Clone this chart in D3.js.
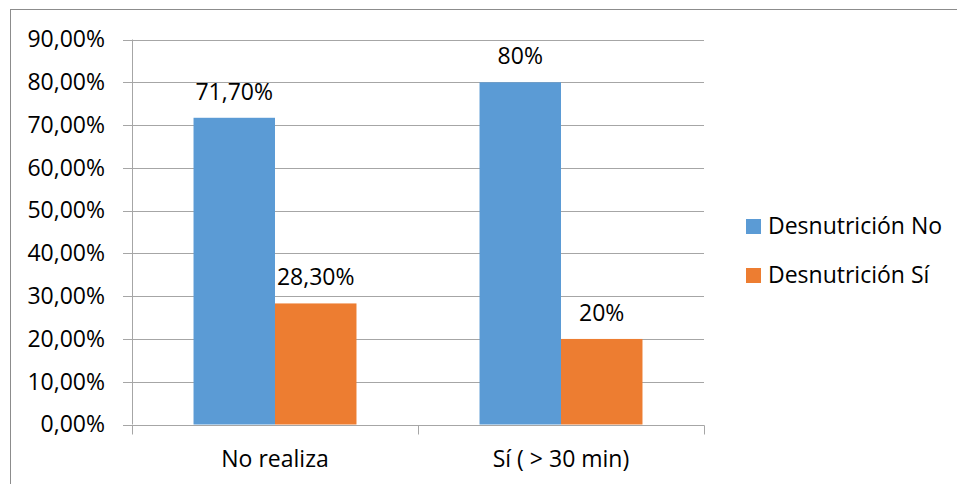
<!DOCTYPE html>
<html>
<head>
<meta charset="utf-8">
<script src="https://cdn.jsdelivr.net/npm/d3@7/dist/d3.min.js"></script>
<style>
  html, body { margin: 0; padding: 0; background: #fff; }
  svg { display: block; font-family: "Open Sans", "Liberation Sans", sans-serif; }
</style>
</head>
<body>
<svg id="chart" width="957" height="484"></svg>
<script>
// Categories, series and their values
const categories = ["No realiza", "Sí ( > 30 min)"];
const seriesNames = ["Desnutrición No", "Desnutrición Sí"];
const seriesColors = ["#5B9BD5", "#ED7D31"];
const valuesNo = [0.717, 0.80];
const valuesSi = [0.283, 0.20];
const valueLabelsNo = ["71,70%", "80%"];
const valueLabelsSi = ["28,30%", "20%"];
const yTicks = [0, 0.1, 0.2, 0.3, 0.4, 0.5, 0.6, 0.7, 0.8, 0.9];

const svg = d3.select("#chart");
const fontSize = 23;

// Outer frame of the chart
svg.append("rect")
  .attr("x", 10.5).attr("y", 9.5)
  .attr("width", 960).attr("height", 500)
  .attr("fill", "none").attr("stroke", "#8c8c8c").attr("stroke-width", 1);

const plot = { left: 132, right: 704, top: 39.5, bottom: 424.5 };

const y = d3.scaleLinear().domain([0, 0.9]).range([plot.bottom, plot.top]);
const x0 = d3.scaleBand().domain(categories).range([plot.left, plot.right]).paddingInner(0).paddingOuter(0);
const x1 = d3.scaleBand().domain(seriesNames).range([0, x0.bandwidth()]).paddingInner(0).paddingOuter(0.755);

const fmt = v => d3.format(".2f")(v * 100).replace(".", ",") + "%";

// Horizontal gridlines
svg.append("g")
  .selectAll("line")
  .data(yTicks)
  .join("line")
  .attr("x1", plot.left - 9).attr("x2", plot.right)
  .attr("y1", d => Math.round(y(d)) + 0.5).attr("y2", d => Math.round(y(d)) + 0.5)
  .attr("stroke", "#a6a6a6").attr("stroke-width", 1);

// Y axis
const yAxis = svg.append("g")
  .attr("transform", `translate(${plot.left - 9},0)`)
  .call(d3.axisLeft(y).tickValues(yTicks).tickFormat(fmt).tickSize(0).tickPadding(18));
yAxis.select(".domain").remove();
yAxis.selectAll("text").attr("font-size", fontSize).attr("fill", "#000")
  .attr("font-family", "\"Open Sans\", sans-serif");

// Vertical axis line
svg.append("line")
  .attr("x1", plot.left + 0.5).attr("x2", plot.left + 0.5)
  .attr("y1", plot.top).attr("y2", plot.bottom)
  .attr("stroke", "#a6a6a6");

// Bars
const groups = svg.append("g")
  .selectAll("g")
  .data(categories)
  .join("g")
  .attr("transform", d => `translate(${x0(d)},0)`);

const barData = (c, i) => [
  { s: seriesNames[0], v: valuesNo[i], label: valueLabelsNo[i], color: seriesColors[0] },
  { s: seriesNames[1], v: valuesSi[i], label: valueLabelsSi[i], color: seriesColors[1] }
];

groups.selectAll("rect")
  .data(barData)
  .join("rect")
  .attr("x", d => x1(d.s))
  .attr("width", x1.bandwidth())
  .attr("y", d => y(d.v))
  .attr("height", d => plot.bottom - y(d.v))
  .attr("fill", d => d.color);

groups.selectAll("text")
  .data(barData)
  .join("text")
  .attr("x", d => x1(d.s) + x1.bandwidth() / 2)
  .attr("y", d => y(d.v) - 18)
  .attr("text-anchor", "middle")
  .attr("font-size", fontSize)
  .attr("fill", "#000")
  .text(d => d.label);

// X axis
const xAxisY = Math.round(plot.bottom) + 0.5;
svg.append("line")
  .attr("x1", plot.left).attr("x2", plot.right + 0.5)
  .attr("y1", xAxisY).attr("y2", xAxisY)
  .attr("stroke", "#a6a6a6");
svg.append("g")
  .selectAll("line")
  .data([plot.left, ...categories.map(c => x0(c) + x0.bandwidth())])
  .join("line")
  .attr("x1", d => Math.round(d) + 0.5).attr("x2", d => Math.round(d) + 0.5)
  .attr("y1", xAxisY).attr("y2", xAxisY + 9)
  .attr("stroke", "#a6a6a6");

svg.append("g")
  .selectAll("text")
  .data(categories)
  .join("text")
  .attr("x", d => x0(d) + x0.bandwidth() / 2)
  .attr("y", 467)
  .attr("text-anchor", "middle")
  .attr("font-size", fontSize)
  .attr("fill", "#000")
  .text(d => d);

// Legend
const legend = svg.append("g")
  .selectAll("g")
  .data(seriesNames)
  .join("g")
  .attr("transform", (d, i) => `translate(746,${219 + i * 49})`);
legend.append("rect")
  .attr("width", 15).attr("height", 15)
  .attr("fill", (d, i) => seriesColors[i]);
legend.append("text")
  .attr("x", 22).attr("y", 15)
  .attr("font-size", fontSize)
  .attr("fill", "#000")
  .text(d => d);
</script>
</body>
</html>
